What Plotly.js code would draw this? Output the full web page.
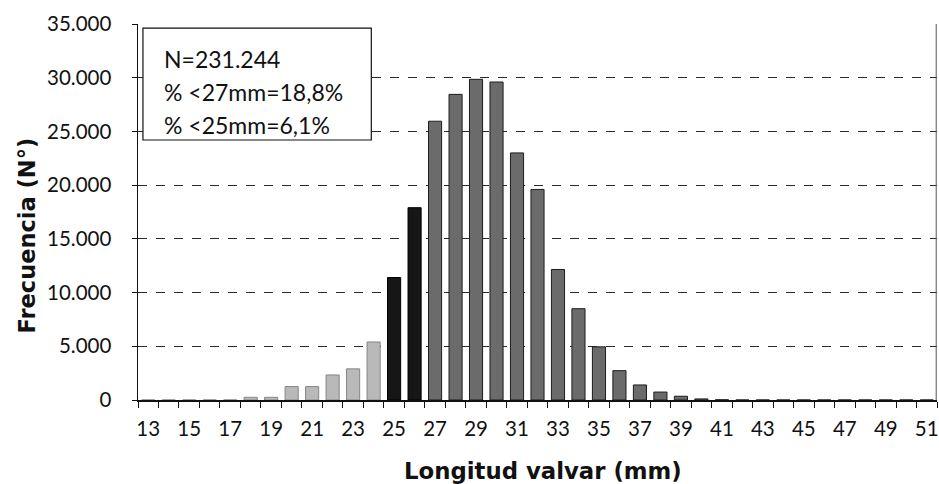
<!DOCTYPE html>
<html>
<head>
<meta charset="utf-8">
<script src="https://cdn.plot.ly/plotly-3.0.1.min.js"></script>
<style>html,body{margin:0;padding:0;background:#fff;}#chart{width:939px;height:484px;}</style>
</head>
<body>
<div id="chart"></div>
<script>
// Data
const lengths = [13,14,15,16,17,18,19,20,21,22,23,24,25,26,27,28,29,30,31,32,33,34,35,36,37,38,39,40,41,42,43,44,45,46,47,48,49,50,51];
const frequency = [0,0,0,0,0,250,250,1250,1250,2330,2900,5400,11400,17900,25950,28450,29850,29600,23000,19600,12150,8500,4950,2730,1400,740,350,100,20,0,0,0,0,0,0,0,0,0,0];
const tickLabels = [13,15,17,19,21,23,25,27,29,31,33,35,37,39,41,43,45,47,49,51];
const yTicks = [0,5000,10000,15000,20000,25000,30000,35000];
const statsLines = ["N=231.244", "% <27mm=18,8%", "% <25mm=6,1%"];
const xTitle = "Longitud valvar (mm)";
const yTitle = "Frecuencia (N°)";

const fillColors = lengths.map(l => l < 25 ? '#b9b9b9' : (l < 27 ? '#161616' : '#6b6b6b'));
const lineColors = lengths.map(l => l < 25 ? '#858585' : (l < 27 ? '#000000' : '#1e1e1e'));
const boundaries = lengths.map(l => l - 0.5).concat([lengths[lengths.length-1] + 0.5]);
const fmt = v => v === 0 ? '0' : (v/1000).toFixed(3);

const FONT = 'Lato, "Open Sans", sans-serif';
const TFONT = '"DejaVu Sans", Verdana, sans-serif';

const trace = {
  type: 'bar',
  x: lengths,
  y: frequency,
  marker: {color: fillColors, line: {color: lineColors, width: 1}},
  hoverinfo: 'x+y'
};

const yPos = [0.907, 0.819, 0.731];
const annotations = statsLines.map((t, i) => ({
  xref: 'paper', yref: 'paper', x: 0.03, y: yPos[i],
  xanchor: 'left', yanchor: 'middle', showarrow: false,
  text: t, font: {family: FONT, size: 23, color: '#111'}
}));
annotations.push({
  xref: 'paper', yref: 'paper', x: 0.5075, y: -0.189,
  xanchor: 'center', yanchor: 'middle', showarrow: false,
  text: '<b>' + xTitle + '</b>', font: {family: TFONT, size: 22.8, color: '#111'}
});
annotations.push({
  xref: 'paper', yref: 'paper', x: -0.1392, y: 0.437,
  xanchor: 'center', yanchor: 'middle', showarrow: false, textangle: -90,
  text: '<b>' + yTitle + '</b>', font: {family: TFONT, size: 22.5, color: '#111'}
});

const layout = {
  width: 939, height: 484,
  margin: {l: 138, r: 2, t: 24, b: 84},
  paper_bgcolor: '#fff', plot_bgcolor: '#fff',
  bargap: 0.36,
  showlegend: false,
  font: {family: FONT, color: '#111'},
  xaxis: {
    range: [12.5, 51.5],
    tickmode: 'array', tickvals: tickLabels, ticktext: tickLabels.map(String),
    ticks: '', showgrid: false, zeroline: false,
    showline: true, linecolor: '#111', linewidth: 1.5,
    tickfont: {family: FONT, size: 20.5, color: '#111'},
    ticklabelstandoff: 10,
    ticklabeloverflow: 'allow',
    minor: {tickmode: 'array', tickvals: boundaries, ticks: 'outside', ticklen: 6, tickwidth: 1, tickcolor: '#111', showgrid: false}
  },
  yaxis: {
    range: [0, 35000],
    tickmode: 'array', tickvals: yTicks, ticktext: yTicks.map(fmt),
    ticks: 'outside', ticklen: 5, tickcolor: '#111', tickwidth: 1,
    showline: true, linecolor: '#111', linewidth: 1.5,
    showgrid: true, gridcolor: '#2a2a2a', gridwidth: 1, griddash: 'dash',
    zeroline: false,
    tickfont: {family: FONT, size: 20.5, color: '#111'},
    ticklabelstandoff: 16
  },
  shapes: [
    {type: 'rect', xref: 'paper', yref: 'paper', x0: 0.0062, x1: 0.292, y0: 0.6915, y1: 0.989,
     line: {color: '#111', width: 1.2}, fillcolor: '#fff', layer: 'above'},
    {type: 'line', xref: 'paper', yref: 'paper', x0: 0.999, x1: 0.999, y0: 0, y1: 1,
     line: {color: '#555', width: 1}}
  ],
  annotations: annotations
};

Plotly.newPlot('chart', [trace], layout, {displayModeBar: false, staticPlot: true});
</script>
</body>
</html>
